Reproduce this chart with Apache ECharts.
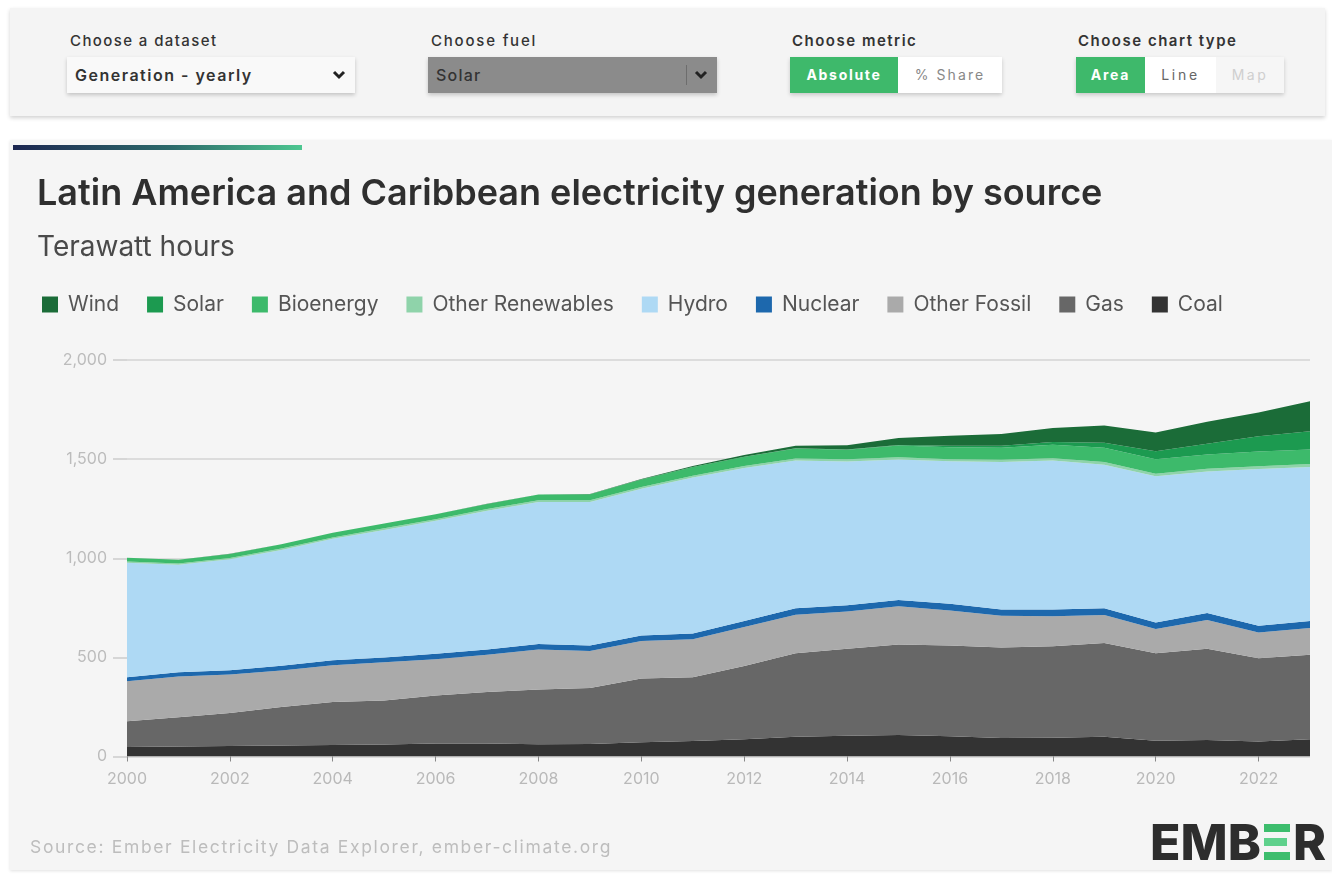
<!DOCTYPE html>
<html>
<head>
<meta charset="utf-8">
<script src="https://cdn.jsdelivr.net/npm/echarts@6/dist/echarts.min.js"></script>
<style>
  html, body { margin: 0; padding: 0; background: #ffffff; font-family: Inter, "Noto Sans", sans-serif; }
  body { width: 1332px; height: 875px; position: relative; overflow: hidden; }
  .panel { position: absolute; left: 10px; top: 8px; width: 1315px; height: 108px; background: #f4f4f4;
           box-shadow: 0 2px 4px rgba(0,0,0,0.18); }
  .lbl { position: absolute; top: 31px; font-size: 15px; color: #333; font-weight: 500; letter-spacing: 1.4px; }
  .lbl.b { font-weight: 600; letter-spacing: 1.5px; }
  .sel { position: absolute; top: 57px; height: 36px; box-sizing: border-box; padding-left: 8px;
         line-height: 36px; font-size: 16px; color: #333; box-shadow: 0 2px 4px rgba(0,0,0,0.2); }
  .sel svg { position: absolute; top: 13px; }
  .grp { position: absolute; top: 57px; height: 36px; display: flex; box-shadow: 0 2px 4px rgba(0,0,0,0.18); }
  .grp div { height: 36px; line-height: 36px; text-align: center; font-size: 14px; }
  .on { background: #3eb96b; color: #fff; font-weight: 700; }
  .off { background: #fff; color: #888; }
  .card { position: absolute; left: 10px; top: 140px; width: 1322px; height: 730px; background: #f5f5f5;
          box-shadow: 0 1px 3px rgba(0,0,0,0.12); }
  .bar { position: absolute; left: 13px; top: 145px; width: 289px; height: 5px;
         background: linear-gradient(90deg, #1c2650 0%, #2c6a6a 55%, #4cc690 100%); }
  #chart { position: absolute; left: 0; top: 0; width: 1332px; height: 875px; }
  .src { position: absolute; left: 30px; top: 836px; font-size: 17.5px; color: #bdbdbd; letter-spacing: 1.65px; }
  .logo { position: absolute; left: 1150px; top: 816px; height: 52px; font-size: 50px; font-weight: 800;
          color: #2d2d2d; line-height: 52px; display: flex; align-items: center; }
  .e3 { display: inline-flex; flex-direction: column; justify-content: space-between; width: 26px; height: 36px;
        margin: 0 3px 0 3px; }
  .e3 span { display: block; height: 8px; background: #3dbd6d; }
  .e3 span:nth-child(2) { background: #5fd18c; width: 88%; }
</style>
</head>
<body>
<div class="panel"></div>
<div class="lbl" style="left:70px">Choose a dataset</div>
<div class="sel" style="left:67px;width:288px;background:#f9f9f9;font-weight:600;letter-spacing:1.5px">Generation - yearly
  <svg style="left:265px" width="14" height="10" viewBox="0 0 14 10"><path d="M2 2 L7 7 L12 2" stroke="#222" stroke-width="3" fill="none"/></svg>
</div>
<div class="lbl" style="left:431px;letter-spacing:1.8px">Choose fuel</div>
<div class="sel" style="left:428px;width:289px;background:#8b8b8b;font-weight:500;letter-spacing:1.2px">Solar
  <div style="position:absolute;left:258px;top:8px;width:1px;height:20px;background:#6d6d6d"></div>
  <svg style="left:266px" width="14" height="10" viewBox="0 0 14 10"><path d="M2 2 L7 7 L12 2" stroke="#222" stroke-width="3" fill="none"/></svg>
</div>
<div class="lbl b" style="left:792px">Choose metric</div>
<div class="grp" style="left:790px">
  <div class="on" style="width:108px;letter-spacing:1.7px">Absolute</div>
  <div class="off" style="width:104px;letter-spacing:2.1px">% Share</div>
</div>
<div class="lbl b" style="left:1078px">Choose chart type</div>
<div class="grp" style="left:1076px">
  <div class="on" style="width:69px;letter-spacing:1.75px">Area</div>
  <div class="off" style="width:71px;color:#666;letter-spacing:2.7px">Line</div>
  <div class="off" style="width:68px;background:#f6f6f6;color:#cfcfcf;letter-spacing:2.5px">Map</div>
</div>

<div class="card"></div>
<div class="bar"></div>
<div id="chart"></div>
<div class="src">Source: Ember Electricity Data Explorer, ember-climate.org</div>
<div class="logo">EMB<span class="e3"><span></span><span></span><span></span></span>R</div>

<script>
// Yearly generation by source, TWh
const years = ['2000','2001','2002','2003','2004','2005','2006','2007','2008','2009','2010','2011',
               '2012','2013','2014','2015','2016','2017','2018','2019','2020','2021','2022','2023'];
const coal = [48, 50, 53, 55, 58, 60, 65, 66, 62, 63, 72, 78, 87, 100, 105, 108, 102, 93, 95, 100, 80, 83, 76, 87];
const gas = [130, 148, 167, 195, 217, 223, 243, 259, 276, 282, 321, 322, 369, 421, 438, 457, 458, 457, 461, 472, 441, 461, 420, 426];
const otherFossil = [202, 205, 193, 184, 185, 192, 183, 188, 202, 187, 189, 191, 197, 194, 188, 193, 177, 160, 151, 142, 122, 144, 130, 135];
const nuclear = [20, 22, 22, 24, 25, 25, 27, 27, 28, 28, 28, 29, 30, 33, 32, 32, 33, 32, 35, 34, 33, 36, 34, 35];
const hydro = [577, 542, 560, 584, 613, 643, 671, 700, 716, 724, 740, 787, 772, 745, 725, 708, 719, 743, 751, 724, 737, 714, 790, 777];
const otherRenewables = [6, 6, 6, 7, 7, 8, 8, 8, 9, 9, 9, 9, 10, 10, 11, 11, 11, 12, 12, 13, 13, 14, 14, 15];
const bioenergy = [19, 19, 21, 21, 23, 24, 25, 26, 28, 30, 38, 44, 47, 51, 48, 60, 60, 60, 67, 72, 74, 71, 74, 73];
const solar = [0, 0, 0, 0, 0, 0, 0, 0, 0, 0, 0.1, 0.2, 0.3, 0.5, 1, 2, 8, 10, 15, 25, 40, 55, 77, 92];
const wind = [0.1, 0.1, 0.2, 0.2, 0.3, 0.4, 0.5, 0.6, 1, 1.5, 3, 5, 8, 13, 22, 35, 50, 60, 70, 88, 94, 110, 120, 152];
const yTicks = [0, 500, 1000, 1500, 2000];

const layers = [
  { name: 'Coal', data: coal, color: '#333333' },
  { name: 'Gas', data: gas, color: '#676767' },
  { name: 'Other Fossil', data: otherFossil, color: '#aaaaaa' },
  { name: 'Nuclear', data: nuclear, color: '#1d68ad' },
  { name: 'Hydro', data: hydro, color: '#aed9f4' },
  { name: 'Other Renewables', data: otherRenewables, color: '#8fd3aa' },
  { name: 'Bioenergy', data: bioenergy, color: '#3dba6b' },
  { name: 'Solar', data: solar, color: '#1c9a50' },
  { name: 'Wind', data: wind, color: '#1b6c38' }
];
const legendOrder = ['Wind', 'Solar', 'Bioenergy', 'Other Renewables', 'Hydro', 'Nuclear', 'Other Fossil', 'Gas', 'Coal'];

const chart = echarts.init(document.getElementById('chart'), null, { renderer: 'canvas' });
chart.setOption({
  animation: false,
  backgroundColor: 'transparent',
  textStyle: { fontFamily: 'Inter, "Noto Sans", sans-serif' },
  title: [
    { text: 'Latin America and Caribbean electricity generation by source', left: 32, top: 171,
      textStyle: { fontSize: 36, fontWeight: 600, color: '#2f2f2f' } },
    { text: 'Terawatt hours', left: 32, top: 229,
      textStyle: { fontSize: 28, fontWeight: 400, color: '#4a4a4a' } }
  ],
  legend: {
    data: legendOrder, left: 37, top: 289, icon: 'rect', itemWidth: 16, itemHeight: 16, itemGap: 28,
    textStyle: { fontSize: 21, color: '#555', padding: [0, 0, 0, 5] }
  },
  grid: { left: 127, right: 22, top: 360, bottom: 118.5 },
  xAxis: {
    type: 'category', data: years, boundaryGap: false,
    axisLine: { show: false },
    axisTick: { show: true, interval: 1, length: 5, lineStyle: { color: '#888' } },
    axisLabel: { interval: 1, margin: 15, fontSize: 16, color: '#b9b9b9' }
  },
  yAxis: {
    type: 'value', min: yTicks[0], max: yTicks[yTicks.length - 1], interval: 500,
    axisLine: { show: false },
    axisTick: { show: true, length: 14, lineStyle: { color: '#d6d6d6', width: 2 } },
    axisLabel: { margin: 20, fontSize: 16, color: '#bcbcbc',
      formatter: v => v.toLocaleString('en-US') },
    splitLine: { lineStyle: { color: '#dcdcdc', width: 2 } }
  },
  series: layers.map(l => ({
    name: l.name, type: 'line', stack: 'total', data: l.data, color: l.color,
    symbol: 'none', showSymbol: false, smooth: false,
    lineStyle: { width: 0 }, areaStyle: { color: l.color, opacity: 1 }
  }))
});
</script>
</body>
</html>
